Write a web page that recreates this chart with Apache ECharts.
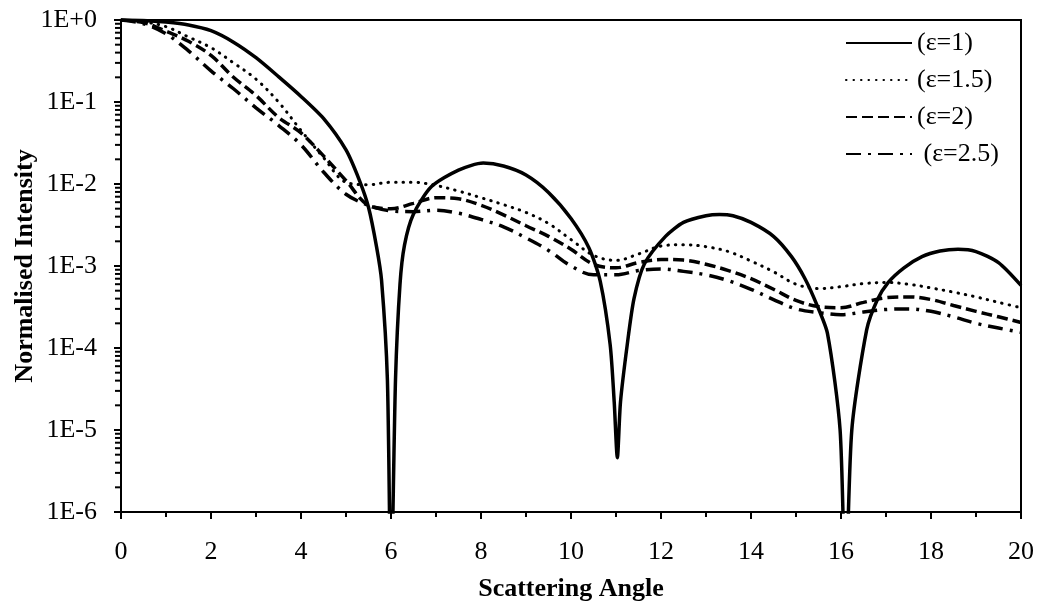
<!DOCTYPE html>
<html>
<head>
<meta charset="utf-8">
<script src="https://cdn.jsdelivr.net/npm/echarts@6/dist/echarts.min.js"></script>
<style>
  html, body { margin: 0; padding: 0; background: #fff; }
  #chart { width: 1041px; height: 604px; }
</style>
</head>
<body>
<div id="chart"></div>
<script>
// eps = 1 curve, denser around the zeros
var angleE1 = [0, 0.5, 1, 1.5, 2, 2.5, 3, 3.5, 4, 4.5,
  5, 5.3, 5.5, 5.68, 5.79, 5.92, 6, 6.1, 6.2, 6.3,
  6.5, 6.9, 7.5, 8.05, 8.5, 9, 9.5, 10, 10.4, 10.65,
  10.87, 10.96, 11.03, 11.1, 11.25, 11.4, 11.63, 12.1, 12.5, 13,
  13.3, 13.6, 14, 14.5, 14.9, 15.2, 15.45, 15.7, 15.98, 16.1,
  16.24, 16.57, 16.8, 17.05, 17.4, 17.8, 18.2, 18.6, 19, 19.5, 20];
var intensityE1 = [1, 0.989, 0.944, 0.871, 0.741, 0.537, 0.347, 0.204, 0.117, 0.063,
  0.026, 0.011, 5.2e-3, 1.7e-3, 6.7e-4, 4.1e-5, 1e-7, 4.1e-5, 6e-4, 1.8e-3,
  4.3e-3, 9.3e-3, 0.0148, 0.018, 0.0166, 0.0129, 7.9e-3, 3.8e-3, 1.66e-3, 6.5e-4,
  1.1e-4, 2.2e-5, 4.6e-6, 2.2e-5, 1.1e-4, 4e-4, 1.06e-3, 2.3e-3, 3.4e-3, 4.1e-3,
  4.25e-3, 4.1e-3, 3.4e-3, 2.3e-3, 1.3e-3, 7e-4, 3.5e-4, 1.5e-4, 1e-5, 1e-7,
  1e-5, 1.66e-4, 3.8e-4, 6.3e-4, 9.5e-4, 1.3e-3, 1.52e-3, 1.6e-3, 1.5e-3, 1.1e-3, 5.8e-4];

// other curves share one angle grid
var angle = [0, 0.5, 1, 1.5, 2, 2.5, 3, 3.5, 4, 4.5,
  5, 5.5, 6, 6.5, 7, 7.5, 8, 8.5, 9, 9.5,
  10, 10.5, 11, 11.5, 12, 12.5, 13, 13.5, 14, 14.5,
  15, 15.5, 16, 16.5, 17, 17.5, 18, 18.5, 19, 19.5, 20];
var intensityE15 = [1, 0.95, 0.83, 0.62, 0.46, 0.3, 0.19, 0.1, 0.045, 0.021,
  0.0105, 0.0098, 0.0105, 0.0105, 9.6e-3, 8.2e-3, 6.8e-3, 5.6e-3, 4.5e-3, 3.3e-3,
  2.1e-3, 1.35e-3, 1.17e-3, 1.4e-3, 1.75e-3, 1.82e-3, 1.72e-3, 1.5e-3, 1.15e-3, 8.5e-4,
  6e-4, 5.3e-4, 5.6e-4, 6.1e-4, 6.3e-4, 6e-4, 5.4e-4, 4.8e-4, 4.2e-4, 3.6e-4, 3.1e-4];
var intensityE2 = [1, 0.93, 0.73, 0.55, 0.37, 0.2, 0.12, 0.065, 0.042, 0.022,
  0.011, 5.5e-3, 5e-3, 5.8e-3, 6.8e-3, 6.6e-3, 5.5e-3, 4.2e-3, 3.1e-3, 2.3e-3,
  1.6e-3, 1.05e-3, 9.5e-4, 1.1e-3, 1.2e-3, 1.18e-3, 1.05e-3, 8.8e-4, 7e-4, 5.2e-4,
  3.8e-4, 3.2e-4, 3.1e-4, 3.6e-4, 4.1e-4, 4.2e-4, 3.9e-4, 3.3e-4, 2.8e-4, 2.4e-4, 2.05e-4];
var intensityE25 = [1, 0.9, 0.68, 0.42, 0.24, 0.145, 0.085, 0.052, 0.03, 0.014,
  7.5e-3, 5.5e-3, 4.7e-3, 4.6e-3, 4.8e-3, 4.4e-3, 3.7e-3, 3e-3, 2.2e-3, 1.55e-3,
  1e-3, 7.8e-4, 7.8e-4, 8.8e-4, 9.2e-4, 8.6e-4, 7.8e-4, 6.6e-4, 5.2e-4, 3.9e-4,
  3e-4, 2.7e-4, 2.55e-4, 2.75e-4, 2.95e-4, 3e-4, 2.8e-4, 2.4e-4, 2e-4, 1.75e-4, 1.55e-4];

var seriesNames = ['(ε=1)', '(ε=1.5)', '(ε=2)', ' (ε=2.5)'];
var yTickLabels = ['1E-6', '1E-5', '1E-4', '1E-3', '1E-2', '1E-1', '1E+0'];

var font = "'Liberation Serif', 'Times New Roman', serif";

function pairs(xs, ys) {
  return xs.map(function (x, i) { return [x, ys[i]]; });
}

// minor ticks of the log axis: 2..9 in every decade
var minorTicks = [];
for (var e = -6; e < 0; e++) {
  for (var m = 2; m <= 9; m++) minorTicks.push([0, m * Math.pow(10, e)]);
}

var chart = echarts.init(document.getElementById('chart'));

function lineSeries(name, data, type, width, smooth, cap) {
  return {
    name: name,
    type: 'line',
    data: data,
    symbol: 'none',
    showSymbol: false,
    smooth: smooth,
    clip: true,
    lineStyle: { color: '#000', width: width, type: type, cap: cap || 'butt' }
  };
}

var option = {
  animation: false,
  backgroundColor: '#fff',
  grid: {
    left: 121, right: 20, top: 20, bottom: 92,
    outerBoundsMode: 'none',
    show: true, borderColor: '#000', borderWidth: 2
  },
  legend: {
    orient: 'vertical',
    left: 845,
    top: 30,
    padding: 0,
    itemWidth: 66,
    itemHeight: 12,
    itemGap: 11,
    itemStyle: { opacity: 0 },
    textStyle: { fontFamily: font, fontSize: 26, color: '#000', lineHeight: 26 },
    data: seriesNames
  },
  xAxis: {
    type: 'value',
    min: 0,
    max: 20,
    interval: 2,
    name: 'Scattering Angle',
    nameLocation: 'middle',
    nameGap: 64,
    nameMoveOverlap: false,
    nameTextStyle: { fontFamily: font, fontSize: 26, fontWeight: 'bold', color: '#000' },
    axisLine: { lineStyle: { color: '#000', width: 2 } },
    axisTick: { length: 7, lineStyle: { color: '#000', width: 2 } },
    minorTick: { show: true, splitNumber: 2, length: 5, lineStyle: { color: '#000', width: 2 } },
    splitLine: { show: false },
    axisLabel: { fontFamily: font, fontSize: 26, color: '#000', margin: 27 }
  },
  yAxis: {
    type: 'log',
    logBase: 10,
    min: 1e-6,
    max: 1,
    splitNumber: 6,
    name: 'Normalised Intensity',
    nameLocation: 'middle',
    nameGap: 83,
    nameRotate: 90,
    nameMoveOverlap: false,
    nameTextStyle: { fontFamily: font, fontSize: 26, fontWeight: 'bold', color: '#000' },
    axisLine: { lineStyle: { color: '#000', width: 2 } },
    axisTick: { length: 7, lineStyle: { color: '#000', width: 2 } },
    splitLine: { show: false },
    axisLabel: {
      fontFamily: font, fontSize: 26, color: '#000', margin: 24,
      formatter: function (v) {
        return yTickLabels[Math.round(Math.log10(v)) + 6];
      }
    }
  },
  series: [
    lineSeries(seriesNames[0], pairs(angleE1, intensityE1), 'solid', 3.5, 0.25),
    lineSeries(seriesNames[1], pairs(angle, intensityE15), [0.5, 7], 3, 0.35, 'round'),
    lineSeries(seriesNames[2], pairs(angle, intensityE2), [11, 5], 3.5, 0.35),
    lineSeries(seriesNames[3], pairs(angle, intensityE25), [15, 7, 3, 7], 3.5, 0.35),
    {
      // short outward minor ticks on the y axis
      type: 'custom',
      silent: true,
      clip: false,
      data: minorTicks,
      renderItem: function (params, api) {
        var p = api.coord([api.value(0), api.value(1)]);
        return {
          type: 'line',
          shape: { x1: p[0] - 6, y1: p[1], x2: p[0], y2: p[1] },
          style: { stroke: '#000', lineWidth: 2 }
        };
      }
    }
  ]
};

chart.setOption(option);
</script>
</body>
</html>
